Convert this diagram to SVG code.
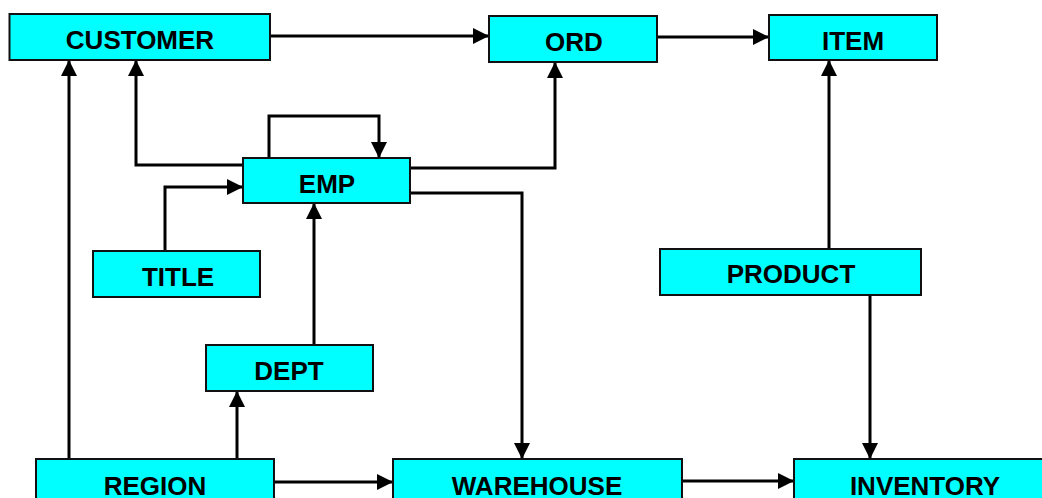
<svg xmlns="http://www.w3.org/2000/svg" width="1042" height="498" viewBox="0 0 1042 498">
<style>
.box{fill:#00ffff;stroke:#111;stroke-width:2}
.lbl{font-family:"Liberation Sans",Arial,sans-serif;font-weight:bold;font-size:26px;fill:#000;text-anchor:middle}
.c{fill:none;stroke:#000;stroke-width:3;marker-end:url(#ah)}
.n{fill:none;stroke:#000;stroke-width:3}
</style>
<defs>
<marker id="ah" markerUnits="userSpaceOnUse" markerWidth="17" markerHeight="17" refX="16" refY="8" orient="auto">
<path d="M0,0 L16,8 L0,16 z" fill="#000"/>
</marker>
</defs>
<rect width="1042" height="498" fill="#fff"/>
<g id="connectors">
<path class="c" d="M270,36 H489"/>
<path class="c" d="M657,37 H769"/>
<path class="c" d="M243,165 H136 V60"/>
<path class="c" d="M69,459 V60"/>
<path class="c" d="M269,158 V116 H379 V158"/>
<path class="c" d="M165,251 V187 H243"/>
<path class="c" d="M410,168 H555 V62"/>
<path class="c" d="M410,193 H522 V459"/>
<path class="c" d="M314,345 V203"/>
<path class="c" d="M237,459 V391"/>
<path class="c" d="M274,482 H393"/>
<path class="c" d="M682,481 H794"/>
<path class="c" d="M829,249 V60"/>
<path class="c" d="M870,295 V459"/>
</g>
<g id="customer"><rect class="box" x="9.5" y="14" width="260.5" height="46"/><text class="lbl" x="140" y="49">CUSTOMER</text></g>
<g id="ord"><rect class="box" x="489" y="16" width="168" height="46"/><text class="lbl" x="574" y="51">ORD</text></g>
<g id="item"><rect class="box" x="769" y="15" width="168" height="45"/><text class="lbl" x="853" y="50">ITEM</text></g>
<g id="emp"><rect class="box" x="243" y="158" width="167" height="45"/><text class="lbl" x="327" y="193">EMP</text></g>
<g id="title"><rect class="box" x="93" y="251" width="167" height="46"/><text class="lbl" x="178" y="286">TITLE</text></g>
<g id="dept"><rect class="box" x="206" y="345" width="167" height="46"/><text class="lbl" x="289" y="380">DEPT</text></g>
<g id="product"><rect class="box" x="660" y="249" width="261" height="46"/><text class="lbl" x="791" y="283">PRODUCT</text></g>
<g id="region"><rect class="box" x="36" y="459" width="238" height="50"/><text class="lbl" x="155" y="495">REGION</text></g>
<g id="warehouse"><rect class="box" x="393" y="459" width="289" height="50"/><text class="lbl" x="537" y="495">WAREHOUSE</text></g>
<g id="inventory"><rect class="box" x="794" y="459" width="260" height="50"/><text class="lbl" x="925" y="495">INVENTORY</text></g>
</svg>
